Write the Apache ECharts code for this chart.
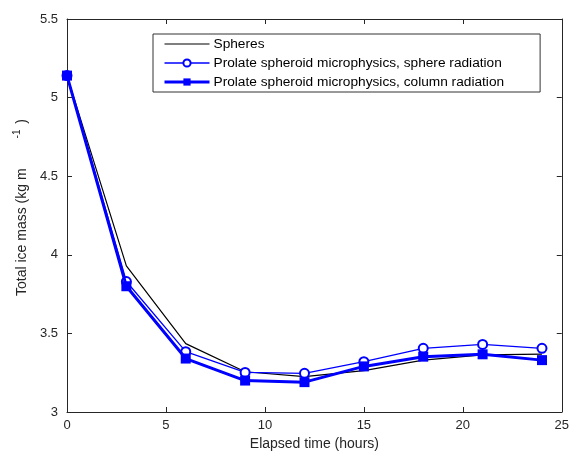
<!DOCTYPE html>
<html>
<head>
<meta charset="utf-8">
<script src="https://cdn.jsdelivr.net/npm/echarts@6/dist/echarts.min.js"></script>
<style>
  html, body { margin: 0; padding: 0; background: #fff; }
  #chart { width: 572px; height: 457px; }
</style>
</head>
<body>
<div id="chart"></div>
<script>
// Elapsed time (hours)
const hours = [0, 3, 6, 9, 12, 15, 18, 21, 24];
// Total ice mass (kg m^-1)
const spheres = [5.14, 3.93, 3.435, 3.256, 3.225, 3.263, 3.33, 3.363, 3.368];
const prolateSphereRad = [5.14, 3.83, 3.384, 3.252, 3.246, 3.32, 3.405, 3.43, 3.405];
const prolateColumnRad = [5.14, 3.80, 3.34, 3.20, 3.19, 3.29, 3.352, 3.367, 3.33];

const seriesNames = [
  'Spheres',
  'Prolate spheroid microphysics, sphere radiation',
  'Prolate spheroid microphysics, column radiation'
];

const pairs = arr => hours.map((h, i) => [h, arr[i]]);
const axisColor = '#262626';
const font = 'Liberation Sans, Arial, sans-serif';

const chart = echarts.init(document.getElementById('chart'));
chart.setOption({
  animation: false,
  backgroundColor: '#fff',
  grid: { left: 67, right: 7, top: 19, bottom: 45, containLabel: false },
  legend: {
    orient: 'vertical',
    left: 153,
    top: 34,
    padding: [3, 36, 3, 10],
    backgroundColor: '#fff',
    borderColor: '#333',
    borderWidth: 1,
    borderRadius: 0,
    itemWidth: 45,
    itemHeight: 9,
    itemGap: 5,
    textStyle: { fontFamily: font, fontSize: 13.7, color: '#000', padding: [0, 0, 0, -1] },
    data: [
      { name: seriesNames[0], itemStyle: { opacity: 0 }, lineStyle: { width: 1.2, color: '#000' } },
      { name: seriesNames[1], lineStyle: { width: 1.3, color: '#0000ff' } },
      { name: seriesNames[2], lineStyle: { width: 3, color: '#0000ff' } }
    ]
  },
  xAxis: [{
    type: 'value', min: 0, max: 25, interval: 5,
    name: 'Elapsed time (hours)', nameLocation: 'middle', nameGap: 22,
    nameTextStyle: { fontFamily: font, fontSize: 14, color: axisColor },
    axisLine: { onZero: false, lineStyle: { color: axisColor, width: 1 } },
    axisTick: { inside: true, length: 5, lineStyle: { color: axisColor } },
    axisLabel: { fontFamily: font, fontSize: 13, color: axisColor, margin: 7 },
    splitLine: { show: false }
  }, {
    type: 'value', min: 0, max: 25, interval: 5, position: 'top',
    axisLine: { onZero: false, lineStyle: { color: axisColor, width: 1 } },
    axisTick: { inside: true, length: 5, lineStyle: { color: axisColor } },
    axisLabel: { show: false }, splitLine: { show: false }
  }],
  yAxis: [{
    type: 'value', min: 3, max: 5.5, interval: 0.5,
    name: '{n|Total ice mass (kg m}{s|-1}{n| )}', nameLocation: 'middle', nameGap: 29,
    nameTextStyle: {
      padding: [0, 0, 0, 16],
      rich: {
        n: { fontFamily: font, fontSize: 14, color: axisColor },
        s: { fontFamily: font, fontSize: 10, color: axisColor, verticalAlign: 'top', padding: [0, 2, 10, 30] }
      }
    },
    axisLine: { show: true, onZero: false, lineStyle: { color: axisColor, width: 1 } },
    axisTick: { show: true, inside: true, length: 5, lineStyle: { color: axisColor } },
    axisLabel: { fontFamily: font, fontSize: 13, color: axisColor, margin: 9 },
    splitLine: { show: false }
  }, {
    type: 'value', min: 3, max: 5.5, interval: 0.5, position: 'right',
    axisLine: { show: true, onZero: false, lineStyle: { color: axisColor, width: 1 } },
    axisTick: { show: true, inside: true, length: 5, lineStyle: { color: axisColor } },
    axisLabel: { show: false }, splitLine: { show: false }
  }],
  series: [{
    name: seriesNames[0], type: 'line', data: pairs(spheres),
    symbol: 'none', lineStyle: { color: '#000', width: 1.2 }, itemStyle: { color: '#000' }, z: 3
  }, {
    name: seriesNames[1], type: 'line', data: pairs(prolateSphereRad),
    symbol: 'emptyCircle', symbolSize: 9,
    lineStyle: { color: '#0000ff', width: 1.3 },
    itemStyle: { color: '#0000ff', borderColor: '#0000ff', borderWidth: 1.3 }, z: 4
  }, {
    name: seriesNames[2], type: 'line', data: pairs(prolateColumnRad),
    symbol: 'rect', symbolSize: 10,
    lineStyle: { color: '#0000ff', width: 3 },
    itemStyle: { color: '#0000ff' }, z: 5
  }]
});
</script>
</body>
</html>
